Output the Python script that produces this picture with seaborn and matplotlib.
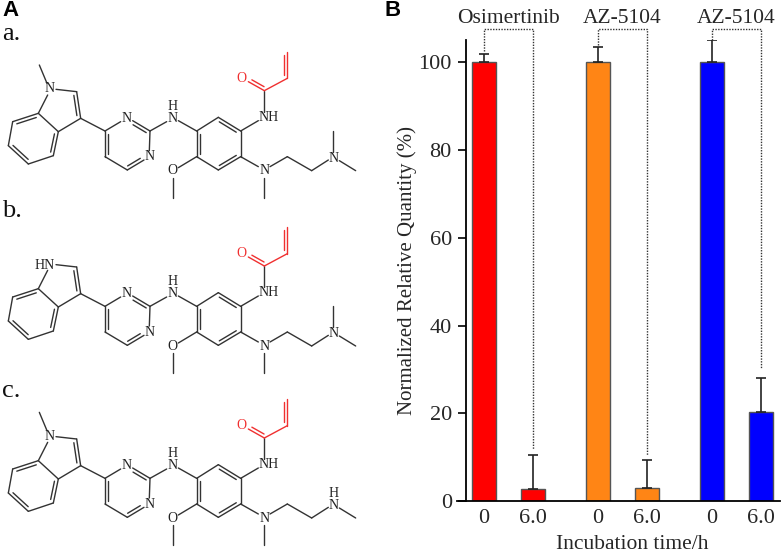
import numpy as np
import pandas as pd
import matplotlib
matplotlib.use("Agg")
import matplotlib.pyplot as plt
import seaborn as sns

sns.set_theme(style="ticks")
plt.rcParams["font.family"] = ["Liberation Serif", "DejaVu Serif"]

# Bar chart values (panel B)
compounds = ["Osimertinib", "AZ-5104", "AZ-5104"]
positions = [0, 1, 2.327, 3.327, 4.653, 5.653]
time_labels = ["0", "6.0", "0", "6.0", "0", "6.0"]
quantity = [100, 2.7, 100, 3.0, 100, 20.3]
error_top = [102, 10.6, 103.6, 9.3, 105, 28]
bar_colors = ["#ff0000", "#ff0000", "#ff8515", "#ff8515", "#0000ff", "#0000ff"]
left_dots_end = [102.5, 104, 105.2]
right_dots_end = [11.8, 10.6, 30]
y_ticks = [0, 20, 40, 60, 80, 100]

# Molecule skeleton (panel A), in 3x pixel units of panel a
atoms = {
    "N": [(380, 355), (448, 470), (518, 354), (793, 513), (1000, 474)],
    "H": [(518, 318)],
    "NH": [(805, 352)],
    "O": [(518, 513)],
}
carbonyl_o = (725, 235)
indole_n = (148, 267)
indole_hn = (135, 270)
extra_h = (1000, 438)
indole_methyl = ((118, 195), (141, 250))
amine_methyl = ((1000, 455), (1000, 392))
black_bonds = [
    ((168, 268), (230, 275)), ((242, 355), (175, 395)),
    ((175, 395), (115, 340)), ((143, 285), (115, 340)), ((38, 365), (25, 437)),
    ((85, 492), (160, 467)), ((242, 355), (315, 393)), ((315, 393), (362, 365)),
    ((450, 393), (448, 452)), ((382, 510), (315, 470)), ((450, 393), (500, 365)),
    ((535, 362), (590, 393)), ((590, 393), (655, 352)), ((722, 393), (722, 470)),
    ((655, 510), (590, 470)), ((722, 393), (775, 362)), ((793, 335), (793, 272)),
    ((590, 470), (535, 503)), ((518, 533), (518, 593)), ((722, 470), (775, 500)),
    ((793, 533), (793, 593)), ((810, 500), (862, 470)), ((862, 470), (935, 512)),
    ((935, 512), (985, 480)), ((1018, 482), (1067, 512)),
]
# double bonds: start, end, point the inner line leans to
black_doubles = [
    ((230, 275), (242, 355), (175, 320)), ((115, 340), (38, 365), (95, 415)),
    ((25, 437), (85, 492), (95, 415)), ((160, 467), (175, 395), (95, 415)),
    ((398, 362), (450, 393), (382, 432)), ((315, 393), (315, 470), (382, 432)),
    ((382, 510), (432, 480), (382, 432)), ((655, 352), (722, 393), (655, 432)),
    ((722, 470), (655, 510), (655, 432)), ((590, 393), (590, 470), (655, 432)),
]
red_bonds = [((793, 272), (862, 235))]
red_doubles = [
    ((793, 272), (745, 245), (800, 235)), ((862, 235), (862, 155), (830, 195)),
]
panel_shift = {"a.": 0, "b.": 526, "c.": 1042}
panel_letter_y = {"a.": 120, "b.": 652, "c.": 1190}

fig = plt.figure(figsize=(7.82, 5.53), dpi=100)

# Panel A overlay, covers the whole figure
bg = fig.add_axes([0, 0, 1, 1])
bg.set_xlim(0, 2346)
bg.set_ylim(1659, 0)
bg.axis("off")

BOND = "#333333"
RED = "#f03030"
ATOM = "#222222"


def draw_bond(p, q, dy, color):
    bg.plot([p[0], q[0]], [p[1] + dy, q[1] + dy], color=color, lw=1.0)


def draw_double(p, q, toward, dy, color):
    p, q, toward = np.array(p, float), np.array(q, float), np.array(toward, float)
    d = q - p
    n = np.array([-d[1], d[0]]) / np.hypot(*d)
    if np.dot(toward - p, n) < 0:
        n = -n
    draw_bond(p, q, dy, color)
    draw_bond(p + 0.12 * d + 10 * n, q - 0.12 * d + 10 * n, dy, color)


def atom_label(xy, label, dy, color=ATOM):
    bg.text(xy[0], xy[1] + dy, label, color=color, fontsize=10, ha="center", va="center")


def draw_molecule(name):
    dy = panel_shift[name]
    for p, q in black_bonds:
        draw_bond(p, q, dy, BOND)
    for p, q in red_bonds:
        draw_bond(p, q, dy, RED)
    for p, q, t in black_doubles:
        draw_double(p, q, t, dy, BOND)
    for p, q, t in red_doubles:
        draw_double(p, q, t, dy, RED)
    for label, points in atoms.items():
        for xy in points:
            atom_label(xy, label, dy)
    atom_label(carbonyl_o, "O", dy, RED)
    # the three compounds differ only at these two spots
    if name == "b.":
        atom_label(indole_hn, "HN", dy)
    else:
        atom_label(indole_n, "N", dy)
        draw_bond(*indole_methyl, dy, BOND)
    if name == "c.":
        atom_label(extra_h, "H", dy)
    else:
        draw_bond(*amine_methyl, dy, BOND)
    bg.text(6, panel_letter_y[name], name, fontsize=19, ha="left", va="baseline", color="#111111")


for panel in panel_shift:
    draw_molecule(panel)

bg.text(6, 32, "A", fontsize=16, fontweight="bold", family="Liberation Sans", va="center", color="black")
bg.text(1152, 30, "B", fontsize=16, fontweight="bold", family="Liberation Sans", va="center", color="black")

# Panel B
ax = fig.add_axes([465.7 / 782, 1 - 501 / 553, (780 - 465.7) / 782, (501 - 40) / 553])
ax.patch.set_alpha(0)
df = pd.DataFrame({"position": positions, "quantity": quantity, "bar": range(6)})
sns.barplot(data=df, x="position", y="quantity", hue="bar", palette=bar_colors,
            native_scale=True, dodge=False, width=0.49, legend=False, saturation=1,
            edgecolor="#555555", linewidth=1.0, ax=ax)
ax.errorbar(positions, quantity,
            yerr=[np.zeros(6), np.array(error_top) - np.array(quantity)],
            fmt="none", ecolor="#222222", elinewidth=1.2, capsize=3.8, capthick=1.2)

ax.set_xlim(-0.373, 6.04)
ax.set_ylim(0, 105.1)
ax.set_yticks(y_ticks)
ax.set_xticks(positions)
ax.set_xticklabels(time_labels)
ax.tick_params(axis="y", length=6, width=1.2, color="black", labelsize=16, pad=4)
ax.tick_params(axis="x", length=0, labelsize=16, pad=6)
ax.set_xlabel("")
ax.set_ylabel("Normalized Relative Quantity (%)", fontsize=15, labelpad=1)
sns.despine(ax=ax)
ax.spines["left"].set_linewidth(1.3)
ax.spines["bottom"].set_linewidth(1.3)
ax.spines["bottom"].set_bounds(-0.55, 6.04)
ax.spines["bottom"].set_color("black")
ax.spines["left"].set_color("black")
ax.text(3.02, -0.095, "Incubation time/h", fontsize=15.5, ha="center", va="center",
        transform=ax.get_xaxis_transform())

# Dotted brackets and compound names
for i, name in enumerate(compounds):
    x0, x1 = positions[2 * i], positions[2 * i + 1]
    ax.plot([x0, x0, x1, x1], [left_dots_end[i], 107.7, 107.7, right_dots_end[i]],
            color="#333333", lw=1.0, ls=(0, (1, 1)), clip_on=False)
    ax.text((x0 + x1) / 2, 110.0, name, fontsize=15.5, ha="center", va="center", clip_on=False)

fig.savefig("out.png", dpi=100)
